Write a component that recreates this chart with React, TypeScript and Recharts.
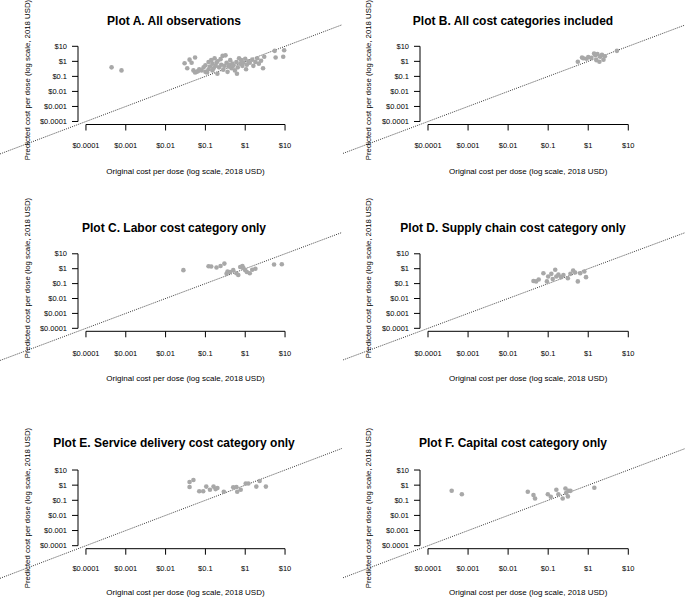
import React from "react";
import {
  ScatterChart,
  Scatter,
  XAxis,
  YAxis,
  ReferenceLine,
} from "recharts";

// log axes, values in 2018 USD per dose
const tickValues = [0.0001, 0.001, 0.01, 0.1, 1, 10];
const tickLabels = ["$0.0001", "$0.001", "$0.01", "$0.1", "$1", "$10"];

const titles = [
  "Plot A. All observations",
  "Plot B. All cost categories included",
  "Plot C. Labor cost category only",
  "Plot D. Supply chain cost category only",
  "Plot E. Service delivery cost category only",
  "Plot F. Capital cost category only",
];

const xTitle = "Original cost per dose (log scale, 2018 USD)";
const yTitle = "Predicted cost per dose (log scale, 2018 USD)";

const plotAOriginal = [
  0.00044, 0.00078, 0.03, 0.035, 0.04, 0.045, 0.05, 0.055, 0.055, 0.06, 0.065,
  0.07, 0.08, 0.09, 0.1, 0.1, 0.11, 0.12, 0.12, 0.13, 0.14, 0.15, 0.15, 0.16,
  0.17, 0.18, 0.19, 0.2, 0.2, 0.22, 0.24, 0.25, 0.27, 0.28, 0.3, 0.32, 0.34,
  0.36, 0.38, 0.4, 0.42, 0.45, 0.48, 0.5, 0.55, 0.6, 0.62, 0.65, 0.7, 0.75, 0.8,
  0.85, 0.9, 1.0, 1.05, 1.1, 1.2, 1.3, 1.5, 1.6, 1.8, 2.0, 2.2, 2.5, 2.8, 3.0,
  5.5, 5.8, 9.0, 9.5,
];
const plotAPredicted = [
  0.4, 0.25, 0.75, 0.35, 1.3, 0.8, 0.25, 1.8, 0.18, 0.2, 0.22, 0.3, 0.25, 0.4,
  0.2, 0.55, 0.18, 0.3, 0.9, 0.45, 1.2, 0.7, 0.25, 0.35, 1.6, 0.5, 0.8, 0.15,
  1.0, 0.4, 1.4, 0.6, 2.3, 0.28, 0.5, 2.5, 0.8, 0.2, 0.45, 0.6, 1.2, 0.35, 0.7,
  0.5, 0.25, 0.9, 0.15, 0.4, 1.6, 0.7, 1.2, 0.5, 0.8, 1.5, 0.3, 0.6, 1.0, 0.8,
  1.3, 0.5, 0.9, 1.6, 0.7, 1.1, 0.35, 2.0, 5.0, 1.8, 2.0, 5.5,
];

const plotBOriginal = [
  0.55, 0.7, 0.75, 0.9, 1.0, 1.2, 1.4, 1.5, 1.6, 1.7, 1.9, 2.0, 2.2, 2.4, 2.6, 5.2,
];
const plotBPredicted = [
  0.95, 1.8, 1.6, 1.5, 1.9, 1.7, 3.3, 2.5, 1.2, 3.0, 0.95, 2.0, 2.7, 1.3, 2.2, 5.0,
];

const plotCOriginal = [
  0.028, 0.12, 0.14, 0.19, 0.24, 0.3, 0.34, 0.36, 0.42, 0.5, 0.6, 0.67, 0.75,
  0.85, 0.9, 1.0, 1.1, 1.3, 1.5, 1.8, 5.3, 8.3,
];
const plotCPredicted = [
  0.8, 1.45, 1.4, 1.2, 1.5, 2.2, 0.45, 0.65, 0.6, 0.8, 0.5, 0.38, 1.3, 1.5, 1.1,
  0.8, 0.6, 0.5, 0.85, 1.0, 1.9, 2.0,
];

const plotDOriginal = [
  0.043, 0.05, 0.058, 0.076, 0.093, 0.1, 0.12, 0.13, 0.15, 0.16, 0.18, 0.21,
  0.24, 0.31, 0.36, 0.42, 0.47, 0.55, 0.63, 0.8, 0.88,
];
const plotDPredicted = [
  0.15, 0.14, 0.19, 0.5, 0.14, 0.3, 0.45, 0.2, 0.85, 0.3, 0.4, 0.27, 0.38, 0.23,
  0.45, 0.75, 0.55, 0.14, 0.5, 0.65, 0.27,
];

const plotEOriginal = [
  0.04, 0.04, 0.05, 0.07, 0.088, 0.105, 0.13, 0.16, 0.18, 0.2, 0.29, 0.5, 0.6,
  0.63, 0.77, 1.03, 1.2, 1.9, 2.3, 3.3,
];
const plotEPredicted = [
  1.6, 0.75, 2.2, 0.4, 0.4, 0.8, 0.5, 0.8, 0.55, 0.65, 0.37, 0.72, 0.75, 0.37,
  0.5, 1.3, 1.3, 0.8, 1.9, 0.8,
];

const plotFOriginal = [
  0.00039, 0.0007, 0.031, 0.043, 0.047, 0.098, 0.116, 0.16, 0.18, 0.23, 0.27,
  0.28, 0.31, 0.32, 0.36, 1.42,
];
const plotFPredicted = [
  0.43, 0.25, 0.37, 0.22, 0.13, 0.25, 0.17, 0.5, 0.25, 0.13, 0.6, 0.3, 0.18,
  0.42, 0.42, 0.68,
];

const series = [
  [plotAOriginal, plotAPredicted],
  [plotBOriginal, plotBPredicted],
  [plotCOriginal, plotCPredicted],
  [plotDOriginal, plotDPredicted],
  [plotEOriginal, plotEPredicted],
  [plotFOriginal, plotFPredicted],
];

// R pads log axes by 4% each side -> 10^-4.2 .. 10^1.2
const LO = Math.pow(10, -4.2);
const HI = Math.pow(10, 1.2);
const T0 = tickValues[0];
const T1 = tickValues[tickValues.length - 1];
const SPAN = Math.log10(HI) - Math.log10(LO);
const PAD = (Math.log10(T0) - Math.log10(LO)) / SPAN; // share of axis before first tick
const RUN = (Math.log10(T1) - Math.log10(T0)) / SPAN; // share covered by ticks

const FONT = '"Liberation Sans", Arial, Helvetica, sans-serif';
const POINT = "#a8a8a8";
const Y_AXIS_W = 60;
const X_AXIS_H = 30;

// layout of the 2 x 3 grid (pixels)
const cols = [
  { left: 0, width: 342, marginLeft: 18, marginRight: 49, titleX: 174, yTitleX: 27.5 },
  { left: 343, width: 342, marginLeft: 17, marginRight: 48.7, titleX: 513, yTitleX: 369 },
];
const rows = [
  { top: 0, height: 205, marginTop: 43.3, marginBottom: 50.5, tickMargin: 12.5, titleY: 20.5, xTitleY: 171.7, yTitleY: 80 },
  { top: 205, height: 212, marginTop: 45.8, marginBottom: 55.7, tickMargin: 13.3, titleY: 228.3, xTitleY: 379, yTitleY: 278 },
  { top: 417, height: 182, marginTop: 50, marginBottom: 20.3, tickMargin: 11, titleY: 443.3, xTitleY: 593.3, yTitleY: 508 },
];

const fmt = (v: number) => {
  const i = tickValues.findIndex((t) => Math.abs(Math.log10(t) - Math.log10(v)) < 1e-6);
  return i >= 0 ? tickLabels[i] : "";
};

// dash pattern that shows the axis line only from the first to the last tick (R style)
const tickSpanDash = (len: number) =>
  `0 ${(len * PAD).toFixed(2)} ${(len * RUN).toFixed(2)} 10000`;

const Dot = (p: any) => <circle cx={p.cx} cy={p.cy} r={2.3} fill={POINT} />;

function Panel({ index }: { index: number }) {
  const col = cols[index % 2];
  const row = rows[Math.floor(index / 2)];
  const [xs, ys] = series[index];
  const data = xs.map((x, i) => ({ x, y: ys[i] }));
  const tickStyle = { fontSize: 7.5, fill: "#000", fontFamily: FONT };
  const plotW = col.width - col.marginLeft - Y_AXIS_W - col.marginRight;
  const plotH = row.height - row.marginTop - row.marginBottom - X_AXIS_H;

  return (
    <div style={{ position: "absolute", left: col.left, top: row.top }}>
      <ScatterChart
        width={col.width}
        height={row.height}
        margin={{
          top: row.marginTop,
          right: col.marginRight,
          bottom: row.marginBottom,
          left: col.marginLeft,
        }}
      >
        <XAxis
          type="number"
          dataKey="x"
          scale="log"
          domain={[LO, HI]}
          ticks={tickValues}
          interval={0}
          tickFormatter={fmt}
          axisLine={{ stroke: "#000", strokeDasharray: tickSpanDash(plotW) }}
          tickLine={{ stroke: "#000" }}
          tickSize={6}
          tickMargin={row.tickMargin}
          tick={tickStyle}
          height={X_AXIS_H}
        />
        <YAxis
          type="number"
          dataKey="y"
          scale="log"
          domain={[LO, HI]}
          ticks={tickValues}
          interval={0}
          tickFormatter={fmt}
          axisLine={{ stroke: "#000", strokeDasharray: tickSpanDash(plotH) }}
          tickLine={{ stroke: "#000" }}
          tickSize={6}
          tickMargin={5}
          tick={tickStyle}
          width={Y_AXIS_W}
        />
        {/* 45 degree line across the whole panel, like abline with xpd */}
        <ReferenceLine
          segment={[
            { x: 1e-9, y: 1e-9 },
            { x: 1e5, y: 1e5 },
          ]}
          stroke="#222"
          strokeWidth={0.9}
          strokeDasharray="1 1.2"
          ifOverflow="visible"
        />
        <Scatter data={data} shape={Dot} isAnimationActive={false} />
      </ScatterChart>
    </div>
  );
}

const textBase: React.CSSProperties = {
  position: "absolute",
  whiteSpace: "nowrap",
  fontFamily: FONT,
  color: "#000",
  lineHeight: 1,
};

export default function App() {
  return (
    <div
      style={{
        position: "absolute",
        left: 0,
        top: 0,
        width: 685,
        height: 599,
        background: "#fff",
        overflow: "hidden",
      }}
    >
      {titles.map((t, i) => (
        <Panel key={t} index={i} />
      ))}
      {titles.map((t, i) => {
        const col = cols[i % 2];
        const row = rows[Math.floor(i / 2)];
        const plotCenter =
          col.left +
          col.marginLeft +
          Y_AXIS_W +
          (col.width - col.marginLeft - Y_AXIS_W - col.marginRight) / 2;
        return (
          <React.Fragment key={"t" + i}>
            <div
              style={{
                ...textBase,
                left: col.titleX,
                top: row.titleY,
                fontSize: 12,
                fontWeight: "bold",
                transform: "translate(-50%, -50%)",
              }}
            >
              {t}
            </div>
            <div
              style={{
                ...textBase,
                left: plotCenter,
                top: row.xTitleY,
                fontSize: 8,
                transform: "translate(-50%, -50%)",
              }}
            >
              {xTitle}
            </div>
            <div
              style={{
                ...textBase,
                left: col.yTitleX,
                top: row.yTitleY,
                fontSize: 7.8,
                transform: "translate(-50%, -50%) rotate(-90deg)",
              }}
            >
              {yTitle}
            </div>
          </React.Fragment>
        );
      })}
    </div>
  );
}
